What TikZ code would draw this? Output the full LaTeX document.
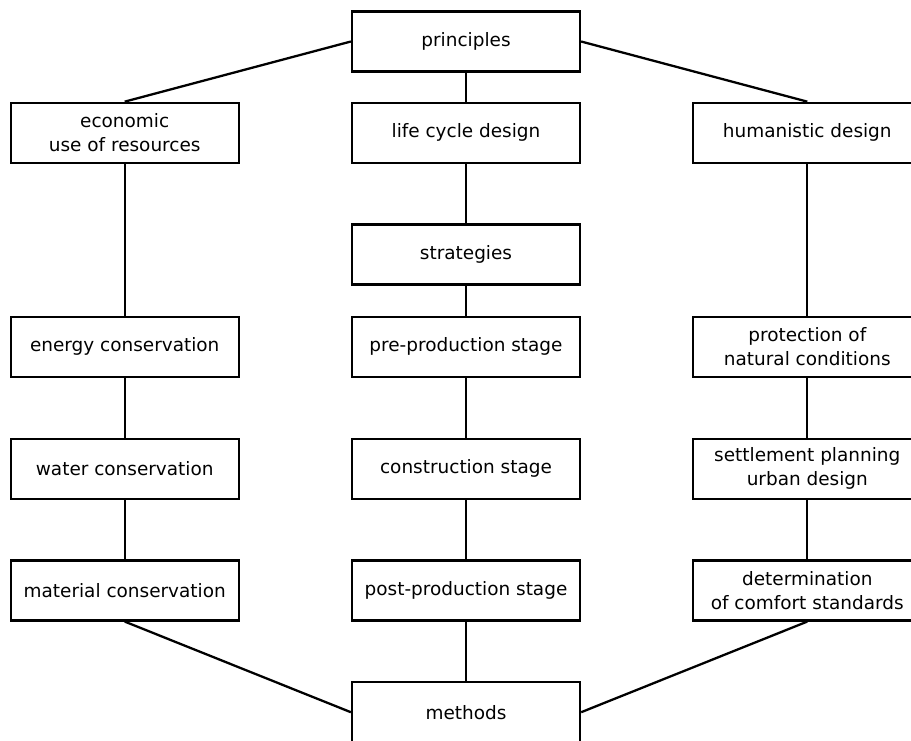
\documentclass[tikz,border=0pt]{standalone}
\usepackage{fontspec}
\setmainfont{DejaVu Sans}
\usetikzlibrary{positioning}

\begin{document}
\begin{tikzpicture}[
  node distance=1.19cm and 2.22cm,
  box/.style={draw,line width=1.3pt,minimum width=4.56cm,minimum height=1.2cm,align=center,font=\fontsize{10.5}{13.5}\selectfont},
  link/.style={line width=1.3pt}
]
\useasboundingbox (0,0) rectangle (18.22,-14.8);
\node[box] (prin) at (9.32,-0.83) {principles};
\node[box,below=0.58cm of prin] (life) {life cycle design};
\node[box,left=of life] (econ) {economic\\use of resources};
\node[box,right=of life] (human) {humanistic design};
\node[box,below=of life] (strat) {strategies};
\node[box,below=0.6cm of strat] (pre) {pre-production stage};
\node[box,left=of pre] (energy) {energy conservation};
\node[box,right=of pre] (protect) {protection of\\natural conditions};
\node[box,below=of pre] (constr) {construction stage};
\node[box,left=of constr] (water) {water conservation};
\node[box,right=of constr] (settle) {settlement planning\\urban design};
\node[box,below=of constr] (post) {post-production stage};
\node[box,left=of post] (material) {material conservation};
\node[box,right=of post] (comfort) {determination\\of comfort standards};
\node[box,below=of post] (meth) {methods};

\path (prin.west) edge[link] (econ.north)
(prin.east) edge[link] (human.north)
(prin) edge[link] (life)
(life) edge[link] (strat)
(strat) edge[link] (pre)
(pre) edge[link] (constr)
(constr) edge[link] (post)
(post) edge[link] (meth)
(econ) edge[link] (energy)
(energy) edge[link] (water)
(water) edge[link] (material)
(human) edge[link] (protect)
(protect) edge[link] (settle)
(settle) edge[link] (comfort)
(material.south) edge[link] (meth.west)
(comfort.south) edge[link] (meth.east);
\end{tikzpicture}
\end{document}
